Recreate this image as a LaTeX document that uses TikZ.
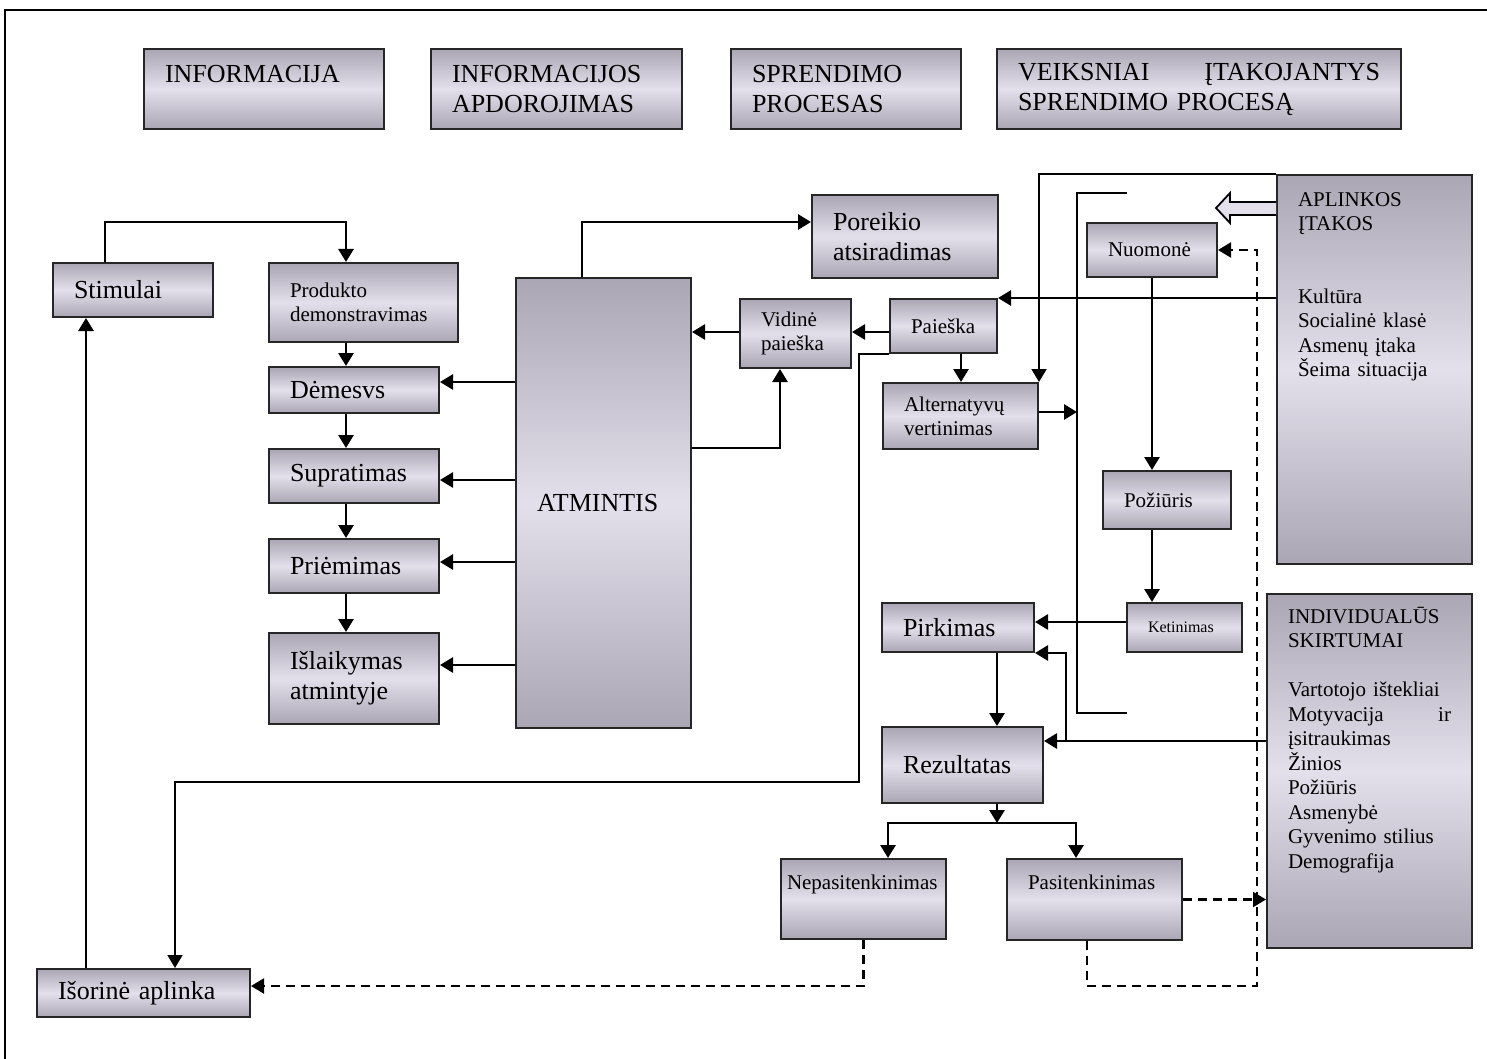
\documentclass[tikz,border=0pt]{standalone}
\usepackage{fontspec}
\setmainfont{Liberation Serif}
\usepackage{tikz}
\usetikzlibrary{positioning}
\usetikzlibrary{arrows.meta}

\definecolor{boxdark}{RGB}{170,166,179}
\definecolor{boxlight}{RGB}{227,223,235}

\begin{document}
\begin{tikzpicture}[
    x=0.5pt, y=-0.5pt,
    box/.style={draw=black!85, line width=1pt, top color=boxdark, bottom color=boxdark, middle color=boxlight, anchor=north west, align=left, inner xsep=10.5pt, inner ysep=2pt},
    bigtxt/.style={font=\fontsize{13}{15}\selectfont},
    smalltxt/.style={font=\fontsize{10.5}{12}\selectfont},
    sidetxt/.style={font=\fontsize{10.5}{12.25}\selectfont, inner ysep=5pt},
    arr/.style={line width=1.4pt, -{Triangle[length=6.5pt,width=7.5pt]}},
    wire/.style={line width=0.9pt},
    dasharr/.style={line width=1.1pt, dash pattern=on 4.5pt off 3pt, -{Triangle[length=6.5pt,width=7.5pt]}}
]
    \useasboundingbox (0,0) rectangle (1487,1059);
    \draw[line width=0.8pt] (5,1059) -- (5,10) -- (1487,10);

    % headings
    \node[box, bigtxt, text width=99pt, minimum height=40pt] (info) at (143,48) {INFORMACIJA\\\phantom{APDOROJIMAS}};
    \node[box, bigtxt, text width=104.5pt, minimum height=40pt] (infoproc) at (430,48) {INFORMACIJOS\\APDOROJIMAS};
    \node[box, bigtxt, text width=94pt, minimum height=40pt] (sprendimas) at (730,48) {SPRENDIMO\\PROCESAS};
    \node[box, bigtxt, text width=181pt, minimum height=40pt] (veiksniai) at (996,48) {VEIKSNIAI\hfill ĮTAKOJANTYS\\SPRENDIMO PROCESĄ};

    % information processing
    \node[box, bigtxt, text width=59pt, minimum height=27pt] (stimulai) at (52,262) {Stimulai};
    \node[box, smalltxt, text width=73.5pt, minimum height=39.5pt] (produktas) at (268,262) {Produkto\\demonstravimas};
    \node[box, bigtxt, text width=64pt, minimum height=23pt] (demesys) at (268,366) {Dėmesvs};
    \node[box, bigtxt, text width=64pt, minimum height=27pt] (supratimas) at (268,448) {Supratimas};
    \node[box, bigtxt, text width=64pt, minimum height=27pt] (priemimas) at (268,538) {Priėmimas};
    \node[box, bigtxt, text width=64pt, minimum height=45.5pt] (islaikymas) at (268,632) {Išlaikymas\\atmintyje};
    \node[box, bigtxt, text width=66.5pt, minimum height=225pt] (atmintis) at (515,277) {ATMINTIS};
    \node[box, bigtxt, text width=85.5pt, minimum height=24pt] (isorine) at (36,968) {Išorinė aplinka};

    % decision process
    \node[box, bigtxt, text width=72pt, minimum height=41.5pt] (poreikis) at (811,194) {Poreikio\\atsiradimas};
    \node[box, smalltxt, text width=34.5pt, minimum height=34.5pt] (vidine) at (739,298) {Vidinė\\paieška};
    \node[box, smalltxt, text width=32.5pt, minimum height=27pt] (paieska) at (889,298) {Paieška};
    \node[box, smalltxt, text width=56.5pt, minimum height=33pt] (alternatyvos) at (882,382) {Alternatyvų\\vertinimas};
    \node[box, smalltxt, text width=44pt, minimum height=27pt] (nuomone) at (1086,222) {Nuomonė};
    \node[box, smalltxt, text width=43pt, minimum height=29pt] (poziuris) at (1102,470) {Požiūris};
    \node[box, font=\fontsize{8}{9.5}\selectfont, text width=36.5pt, minimum height=24.5pt] (ketinimas) at (1126,602) {Ketinimas};
    \node[box, bigtxt, text width=55pt, minimum height=24.5pt] (pirkimas) at (881,602) {Pirkimas};
    \node[box, bigtxt, text width=59.5pt, minimum height=38pt] (rezultatas) at (881,726) {Rezultatas};
    \node[box, smalltxt, inner xsep=3pt, text width=76.5pt, minimum height=40pt, text depth=17pt] (nepasitenkinimas) at (780,858) {Nepasitenkinimas};
    \node[box, smalltxt, text width=66.5pt, minimum height=40.5pt, text depth=17pt] (pasitenkinimas) at (1006,858) {Pasitenkinimas};

    % influences
    \node[box, sidetxt, text width=76.5pt, text height=10.5pt, text depth=174pt] (aplinkos) at (1276,174) {APLINKOS\\ĮTAKOS\\[24pt]Kultūra\\Socialinė klasė\\Asmenų įtaka\\Šeima situacija};
    \node[box, sidetxt, text width=81.5pt, text height=9.5pt, text depth=157.5pt] (individ) at (1266,593) {INDIVIDUALŪS\\SKIRTUMAI\\[12.25pt]Vartotojo ištekliai\\Motyvacija\hfill ir\\įsitraukimas\\Žinios\\Požiūris\\Asmenybė\\Gyvenimo stilius\\Demografija};

    % left column
    \draw[arr] (stimulai.north -| 105,0) -- (105,222) -| (produktas.north -| 346,0);
    \foreach \a/\b in {produktas/demesys, demesys/supratimas, supratimas/priemimas, priemimas/islaikymas}
        \draw[arr] (\a.south -| 346,0) -- (\b.north -| 346,0);
    \foreach \b/\y in {demesys/382, supratimas/480, priemimas/562, islaikymas/665}
        \draw[arr] (atmintis.west |- 0,\y) -- (\b.east |- 0,\y);
    \draw[arr] (isorine.north -| 86,0) -- (stimulai.south -| 86,0);

    % memory and search
    \draw[arr] (atmintis.north -| 582,0) |- (poreikis.west |- 0,222);
    \draw[arr] (vidine.west |- 0,332) -- (atmintis.east |- 0,332);
    \draw[arr] (atmintis.east |- 0,448) -| (vidine.south -| 780,0);
    \draw[arr] (paieska.west |- 0,332) -- (vidine.east |- 0,332);
    \draw[arr] (paieska.south -| 961,0) -- (alternatyvos.north -| 961,0);
    \draw[wire, -{Triangle[length=6.5pt,width=7.5pt]}] (paieska.south west) -| (859,782) -| (isorine.north -| 175,0);
    \draw[wire, -{Triangle[length=6.5pt,width=7.5pt]}] (aplinkos.north west) -| (alternatyvos.north east);
    \draw[arr] (aplinkos.west |- 0,298) -- (paieska.north east);
    \draw[wire, fill=boxlight] (aplinkos.west |- 0,202) -- (1230,202) -- (1230,193) -- (1216,208) -- (1230,223) -- (1230,215) -- (aplinkos.west |- 0,215);

    % bracket
    \coordinate (brtop) at (1127,193);
    \coordinate (brbot) at (1127,713);
    \coordinate (brin) at (1077,412);
    \draw[wire] (brtop) -- (brtop -| brin) -- (brbot -| brin) -- (brbot);
    \draw[arr] (alternatyvos.east |- brin) -- (brin);

    % attitude chain
    \draw[arr] (nuomone.south -| 1152,0) -- (poziuris.north -| 1152,0);
    \draw[arr] (poziuris.south -| 1152,0) -- (ketinimas.north -| 1152,0);
    \draw[arr] (ketinimas.west |- 0,622) -- (pirkimas.east |- 0,622);
    \draw[arr] (pirkimas.south -| 997,0) -- (rezultatas.north -| 997,0);
    \coordinate (split) at (1066,741);
    \draw[arr] (individ.west |- split) -- (rezultatas.east |- split);
    \draw[arr] (split) |- (pirkimas.south east);

    % outcome
    \coordinate (fork) at (997,823);
    \draw[arr] (rezultatas.south -| fork) -- (fork);
    \draw[arr] (fork) -| (nepasitenkinimas.north -| 888,0);
    \draw[arr] (fork) -| (pasitenkinimas.north -| 1076,0);
    \draw[dasharr] (nepasitenkinimas.south) |- (isorine.east |- 0,986);
    \draw[dasharr] (pasitenkinimas.east) -- (pasitenkinimas.east -| individ.west);
    \coordinate (dashcorner) at (1257,986);
    \draw[dasharr] (pasitenkinimas.south -| 1087,0) |- (dashcorner) |- (nuomone.east);
\end{tikzpicture}
\end{document}
